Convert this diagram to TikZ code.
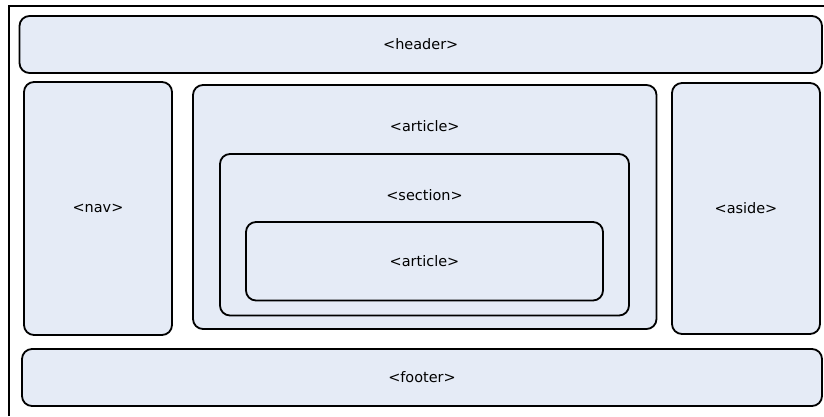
\documentclass[tikz,border=0pt]{standalone}
\usepackage{fontspec}
\setmainfont{DejaVu Sans}
\usetikzlibrary{positioning}

\definecolor{boxfill}{RGB}{229,235,246}

\begin{document}
\begin{tikzpicture}[x=1bp,y=-1bp,
    tagbox/.style={draw,fill=boxfill,line width=1.8bp,rounded corners=10bp,inner sep=0pt,
                   font=\fontsize{14.5}{17}\selectfont},
    toplabel/.style={label={[anchor=center,yshift=-42bp,font=\fontsize{14.5}{17}\selectfont]north:#1}}]

   \useasboundingbox (0,0) rectangle (824,416);

   % Page frame
      \draw[line width=2bp] (8.5,416) |- (824,5.5);

   % Nodes
      \node[tagbox,minimum width=802.5bp,minimum height=57bp]   (header)  at (420.75,44.5)  {<header>};
      \node[tagbox,minimum width=148bp,minimum height=253bp]    (nav)     at (98,208.5)     {<nav>};
      \node[tagbox,minimum width=463.5bp,minimum height=244bp,toplabel={<article>}] (article) at (424.75,207) {};
      \node[tagbox,minimum width=409bp,minimum height=161.5bp,toplabel={<section>}] (section) at (424.5,234.75) {};
      \node[tagbox,minimum width=357bp,minimum height=78.5bp]   (inner)   at (424.5,261.25) {<article>};
      \node[tagbox,minimum width=148bp,minimum height=251bp]    (aside)   at (746,208.5)    {<aside>};
      \node[tagbox,minimum width=800bp,minimum height=57bp]     (footer)  at (422,377.5)    {<footer>};
\end{tikzpicture}
\end{document}
